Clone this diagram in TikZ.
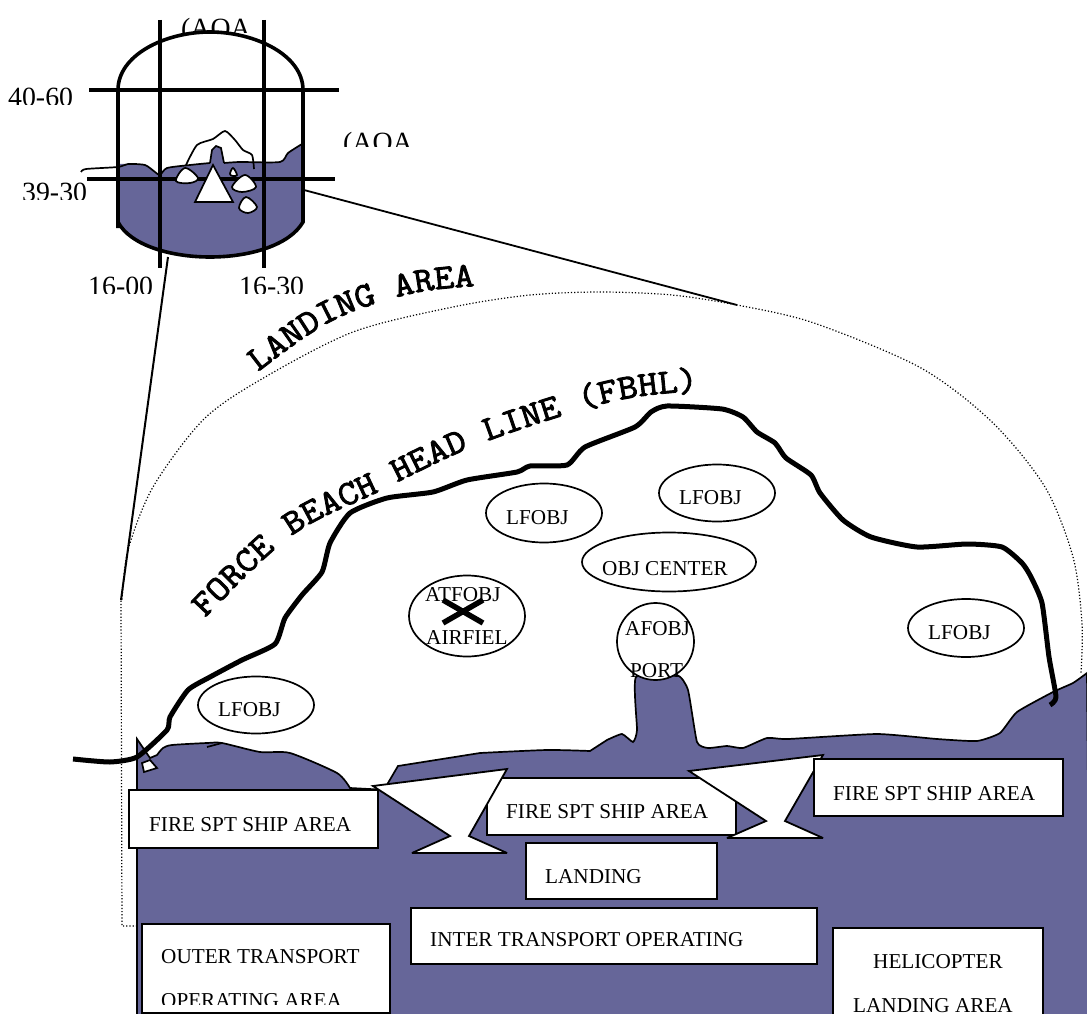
\documentclass[tikz,border=0pt]{standalone}
\usepackage{fontspec}
\setmainfont{Liberation Serif}
\newfontfamily\slabFont{Latin Modern Mono}[FakeBold=2.5,FakeStretch=1.1]
\usetikzlibrary{shapes.geometric,decorations.text}
\definecolor{seaBlue}{HTML}{666699}
\tikzset{
	areaText/.style = {anchor = base west, inner sep = 0pt, font = \fontsize{21.2}{21}\selectfont},
	gridText/.style = {anchor = base west, inner sep = 0pt, font = \fontsize{27.8}{27}\selectfont},
	shipBox/.style = {draw, fill = white, line width = 2pt, anchor = north west, inner sep = 0pt},
	objOval/.style = {draw, fill = white, ellipse, line width = 1.7pt, inner sep = 0pt},
	gridLine/.style = {line width = 3.6pt},
	thinLine/.style = {line width = 1.7pt},
	landingArc/.style = {line width = 1.2pt, dash pattern = on 1.2pt off 2pt},
	anvilShape/.style = {draw, fill = white, line width = 1.8pt, miter limit = 4}
}
\newcommand{\myBox}[4]{
	\node[shipBox, minimum width = #3pt, minimum height = #4pt] (#1) at (#2) {};
}
\newcommand{\myOval}[4]{
	\node[objOval, minimum width = #3pt, minimum height = #4pt] (#1) at (#2) {};
}
\newcommand{\myCutLabel}[5]{
	\begin{scope}
		\clip (#2-10,#3-40) rectangle (#2+110,#4);
		\node[gridText] (#1) at (#2,#3) {#5};
	\end{scope}
}
\begin{document}
\begin{tikzpicture}[x = 1pt, y = -1pt]
	\useasboundingbox (0,0) rectangle (1087,1014);
	\clip (0,0) rectangle (1087,1014);

	% inset map
	\myCutLabel{aoaTop}{181}{38}{33}{(AOA}
	\myCutLabel{aoaSide}{343}{152}{147}{(AOA}
	\myCutLabel{latHigh}{8}{107}{105}{40-60}
	\myCutLabel{latLow}{22}{201}{199}{39-30}
	\myCutLabel{lonLeft}{88}{295}{293}{16-00}
	\myCutLabel{lonRight}{239}{295}{293}{16-30}

	\draw[fill = seaBlue, draw = none] (118,164) -- plot[smooth, tension = .4] coordinates {(128,164) (145,165) (155,172) (160,175) (167,168) (190,165) (210,163)}
		-- (212,150) -- (216,146) -- (221,148) -- (224,163) -- plot[smooth, tension = .4] coordinates {(240,162) (280,162) (288,153) (302,144)}
		-- (303,222) .. controls (290,245) and (250,257) .. (210,257) .. controls (170,257) and (130,245) .. (118,222) -- cycle;
	\draw[thinLine] plot[smooth, tension = .4] coordinates {(81,172) (86,169) (118,167) (128,164) (145,165) (155,172) (160,175) (167,168) (190,165) (210,163)};
	\draw[thinLine] plot[smooth, tension = .4] coordinates {(224,163) (240,162) (280,162) (288,153) (302,144)};
	\draw[thinLine] (210,163) -- (212,150) -- (216,146) -- (221,148) -- (224,163);
	\draw[thinLine] plot[smooth, tension = .4] coordinates {(186,165) (197,145) (213,139) (225,131) (235,140) (243,150) (252,155) (254,169)};
	\draw[gridLine] (118,228) -- (118,90) .. controls (118,55) and (165,32) .. (210,32) .. controls (255,32) and (303,55) .. (303,90) -- (303,222)
		.. controls (290,245) and (250,257) .. (210,257) .. controls (170,257) and (130,245) .. (118,222);
	\draw[gridLine] (160,20) -- (160,268);
	\draw[gridLine] (264,20) -- (264,268);
	\draw[gridLine] (89,90) -- (339,90);
	\draw[gridLine] (87,179) -- (335,179);
	\draw[thinLine, fill = white] plot[smooth cycle, tension = .6] coordinates {(176,181) (185,168) (198,178) (190,183)};
	\draw[thinLine, fill = white] plot[smooth cycle, tension = .6] coordinates {(233,168) (237,175) (233,176) (230,174)};
	\draw[thinLine, fill = white] plot[smooth cycle, tension = .6] coordinates {(245,175) (256,187) (242,192) (232,187)};
	\draw[thinLine, fill = white] plot[smooth cycle, tension = .6] coordinates {(246,197) (257,207) (248,213) (239,208)};
	\draw[thinLine, fill = white] (213,165) -- (195,202) -- (233,202) -- cycle;

	\coordinate (insetLeft) at (168,257);
	\coordinate (insetRight) at (304,190);
	\coordinate (arcLeft) at (121,600);
	\coordinate (arcRight) at (737,305);
	\draw[line width = 2pt] (insetLeft) -- (arcLeft);
	\draw[line width = 1.8pt] (insetRight) -- (arcRight);

	% landing area
	\draw[landingArc] (137,926) -- (122,926) -- (arcLeft) -- plot[smooth, tension = .5] coordinates {(122,600) (128,550) (153,487) (203,420) (260,380) (353,332) (453,307) (530,295) (601,292) (672,295) (arcRight) (814,323) (921,368) (992,422) (1045,487) (1073,557) (1082,623) (1081,673)};

	\draw[fill = seaBlue, thinLine] (137,739) -- (150,758) -- plot[smooth, tension = .4] coordinates {(157,755) (163,748) (172,745) (207,743) (222,743) (260,752) (290,753) (337,773) (350,788)}
		-- (388,790) -- (388,783) -- (398,766) -- plot[smooth, tension = .4] coordinates {(480,753) (547,750) (590,751)}
		-- plot[smooth, tension = .3] coordinates {(607,740) (622,734) (633,742) (637,730) (636,677) (677,675) (688,690) (697,742) (708,748) (727,746) (743,748) (767,738) (788,739) (877,734) (937,739) (977,741) (1000,733) (1017,712) (1053,692) (1073,683) (1087,673)}
		-- (1090,1020) -- (137,1020) -- cycle;
	\draw[thinLine] (207,747) -- (222,743);
	\draw[thinLine, fill = white] (142,763) -- (150,760) -- (157,768) -- (144,772) -- cycle;

	\draw[line width = 5pt, line join = round] plot[smooth, tension = .35] coordinates {(73,759) (110,762) (137,757) (167,730) (170,717) (188,690) (210,677) (242,660) (275,644) (285,618) (302,595) (322,572) (330,543) (350,513) (387,498) (433,492) (467,480) (517,472) (530,466) (567,465) (585,447) (635,427) (651,412) (667,406) (722,409) (743,417) (757,432) (775,443) (786,458) (811,475) (820,493) (843,520) (871,537) (917,547) (967,544) (1002,547) (1022,563) (1031,577) (1042,603) (1049,657) (1056,697) (1050,705)};

	\path[decorate, decoration = {text along path, text align = left,
		text = {|\slabFont\fontsize{35}{35}\selectfont|LANDING AREA}}]
		plot[smooth, tension = .6] coordinates {(258,372) (330,322) (410,294) (488,285) (540,282)};
	\path[decorate, decoration = {text along path, text align = left,
		text = {|\slabFont\fontsize{35}{35}\selectfont|FORCE BEACH HEAD LINE (FBHL)}}]
		plot[smooth, tension = .6] coordinates {(205,618) (290,537) (378,492) (470,448) (565,415) (630,398) (705,390) (770,386)};

	% objectives
	\myOval{lfobjCoast}{256,705}{116}{57}
	\myOval{lfobjMid}{544,513}{116}{59}
	\myOval{lfobjTop}{717,493}{116}{57}
	\myOval{objCenter}{669,562}{174}{59}
	\myOval{lfobjRight}{966,628}{116}{58}
	\myOval{airfield}{467,616}{116}{81}
	\myOval{portCircle}{655.5,641.5}{77}{77}
	\draw[line width = 5.5pt] (443,600) -- (483,623);
	\draw[line width = 5.5pt] (443,623) -- (483,600);
	\node[areaText] (lfobjCoastText) at (218,716) {LFOBJ};
	\node[areaText] (lfobjMidText) at (506,524) {LFOBJ};
	\node[areaText] (lfobjTopText) at (679,504) {LFOBJ};
	\node[areaText] (objCenterText) at (602,575) {OBJ CENTER};
	\node[areaText] (lfobjRightText) at (928,639) {LFOBJ};
	\node[areaText] (atfobjText) at (425,601) {ATFOBJ};
	\node[areaText] (airfieldText) at (426,644) {AIRFIEL};
	\node[areaText] (afobjText) at (625,635) {AFOBJ};
	\node[areaText] (portText) at (630,677) {PORT};

	% sea areas
	\myBox{fireMid}{486,777}{249}{57}
	\draw[anvilShape] (373,786) -- (507,769) -- (469,836) -- (507,853) -- (412,853) -- (450,836) -- cycle;
	\draw[anvilShape] (689,771) -- (823,755) -- (785,821) -- (823,838) -- (727,838) -- (766,821) -- cycle;
	\myBox{fireLeft}{128,789}{249}{58}
	\myBox{fireRight}{813,758}{249}{57}
	\myBox{landingBox}{525,842}{191}{56}
	\myBox{interBox}{410,907}{406}{56}
	\myBox{outerBox}{141,923}{248}{89}
	\myBox{heloBox}{832,927}{210}{100}
	\node[areaText] (fireLeftText) at (149,831) {FIRE SPT SHIP AREA};
	\node[areaText] (fireMidText) at (506,818) {FIRE SPT SHIP AREA};
	\node[areaText] (fireRightText) at (833,800) {FIRE SPT SHIP AREA};
	\node[areaText] (landingText) at (545,883) {LANDING};
	\node[areaText] (interText) at (430,946) {INTER TRANSPORT OPERATING};
	\node[areaText] (outerText) at (161,963) {OUTER TRANSPORT};
	\node[areaText] (heloText) at (873,968) {HELICOPTER};
	\begin{scope}
		\clip (150,985) rectangle (380,1004);
		\node[areaText] (outerTextB) at (161,1007) {OPERATING AREA};
	\end{scope}
	\node[areaText] (heloTextB) at (853,1012) {LANDING AREA};
\end{tikzpicture}
\end{document}
